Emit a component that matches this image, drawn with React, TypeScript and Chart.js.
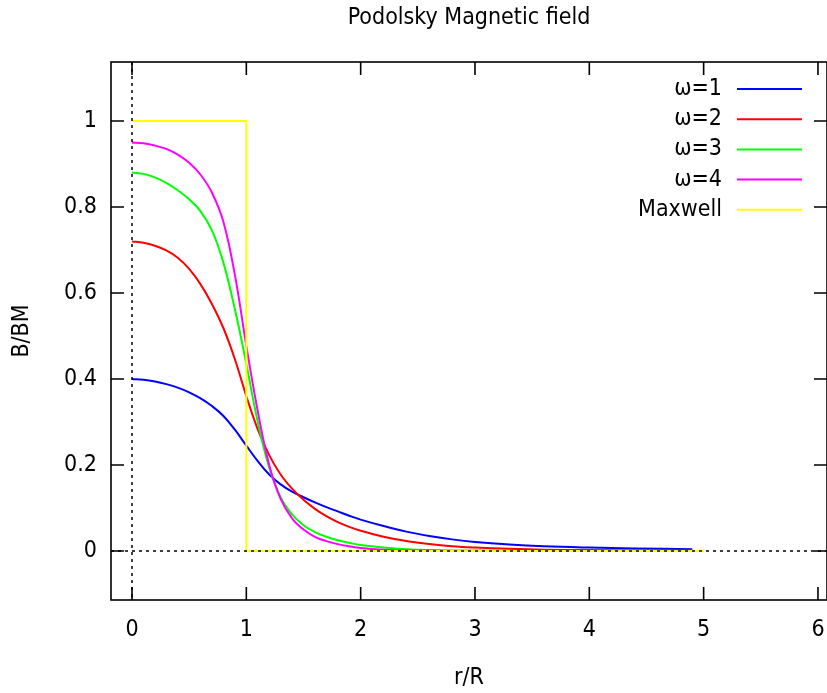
import React, { useEffect, useRef } from "react";
import { Chart, registerables } from "chart.js";

Chart.register(...registerables);

const FONT = "'DejaVu Sans Condensed', 'DejaVu Sans', sans-serif";

const chartTitle = "Podolsky Magnetic field";
const xAxisTitle = "r/R";
const yAxisTitle = "B/BM";

const xTickValues = [0, 1, 2, 3, 4, 5, 6];
const yTickValues = [0, 0.2, 0.4, 0.6, 0.8, 1];

const rValues = [
  0, 0.1, 0.2, 0.3, 0.4, 0.5, 0.6, 0.7, 0.8, 0.9, 1.0, 1.1, 1.2, 1.3, 1.4, 1.5, 1.6, 1.7, 1.8, 1.9, 2.0,
  2.2, 2.4, 2.6, 2.8, 3.0, 3.3, 3.6, 4.0, 4.4, 4.9,
];
const omega1 = [
  0.400, 0.398, 0.394, 0.388, 0.380, 0.369, 0.355, 0.337, 0.314, 0.282, 0.245, 0.209, 0.178, 0.155, 0.138, 0.125, 0.113, 0.102, 0.092, 0.082, 0.073,
  0.058, 0.045, 0.035, 0.027, 0.021, 0.015, 0.011, 0.008, 0.006, 0.004,
];
const omega2 = [
  0.720, 0.717, 0.710, 0.699, 0.682, 0.656, 0.620, 0.574, 0.518, 0.446, 0.360, 0.283, 0.223, 0.178, 0.145, 0.119, 0.098, 0.081, 0.067, 0.056, 0.047,
  0.033, 0.023, 0.016, 0.011, 0.008, 0.005, 0.003, 0.002, 0.001, 0.001,
];
const omega3 = [
  0.880, 0.877, 0.869, 0.856, 0.839, 0.818, 0.790, 0.745, 0.670, 0.562, 0.435, 0.300, 0.194, 0.125, 0.085, 0.060, 0.044, 0.033, 0.025, 0.019, 0.014,
  0.008, 0.004, 0.002, 0.001, 0.001, 0, 0, 0, 0, 0,
];
const omega4 = [
  0.950, 0.948, 0.943, 0.935, 0.922, 0.903, 0.875, 0.833, 0.765, 0.642, 0.477, 0.325, 0.200, 0.121, 0.076, 0.050, 0.033, 0.023, 0.016, 0.011, 0.007,
  0.003, 0.001, 0.001, 0, 0, 0, 0, 0, 0, 0,
];
const maxwellR = [0, 1, 1, 5];
const maxwellB = [1, 1, 0, 0];

const seriesLabels = ["ω=1", "ω=2", "ω=3", "ω=4", "Maxwell"];
const seriesColors = ["#0000ff", "#ff0000", "#00ff00", "#ff00ff", "#ffff00"];

const xMin = -0.1837;
const xMax = 6.079;
const yMin = -0.114;
const yMax = 1.1372;

const toPoints = (xs: number[], ys: number[]) => xs.map((x, i) => ({ x, y: ys[i] }));

const gnuplotFrame = {
  id: "gnuplotFrame",
  afterDatasetsDraw(chart: any) {
    const { ctx, chartArea } = chart;
    const { left, right, top, bottom } = chartArea;
    const xs = chart.scales.x;
    const ys = chart.scales.y;
    ctx.save();
    // zero axes (dotted)
    ctx.strokeStyle = "#000";
    ctx.lineWidth = 1.5;
    ctx.setLineDash([3, 4]);
    const y0 = ys.getPixelForValue(0);
    const x0 = xs.getPixelForValue(0);
    ctx.beginPath();
    ctx.moveTo(left, y0);
    ctx.lineTo(right, y0);
    ctx.moveTo(x0, top);
    ctx.lineTo(x0, bottom);
    ctx.stroke();
    ctx.setLineDash([]);
    // border
    ctx.lineWidth = 1.6;
    ctx.strokeRect(left, top, right - left, bottom - top);
    // ticks (inside, mirrored)
    const tl = 13;
    ctx.beginPath();
    xTickValues.forEach((v) => {
      const p = xs.getPixelForValue(v);
      ctx.moveTo(p, bottom);
      ctx.lineTo(p, bottom - tl);
      ctx.moveTo(p, top);
      ctx.lineTo(p, top + tl);
    });
    yTickValues.forEach((v) => {
      const p = ys.getPixelForValue(v);
      ctx.moveTo(left, p);
      ctx.lineTo(left + tl, p);
      ctx.moveTo(right, p);
      ctx.lineTo(right - tl, p);
    });
    ctx.stroke();
    // legend (gnuplot style: text right-aligned, sample line to the right)
    ctx.font = `23px ${FONT}`;
    ctx.textAlign = "right";
    ctx.textBaseline = "middle";
    const textRight = right - 105;
    const lineStart = right - 90;
    const lineEnd = right - 25;
    chart.data.datasets.forEach((ds: any, i: number) => {
      const y = top + 27 + i * 30.2;
      ctx.fillStyle = "#000";
      ctx.fillText(ds.label, textRight, y);
      ctx.strokeStyle = ds.borderColor;
      ctx.lineWidth = 2;
      ctx.beginPath();
      ctx.moveTo(lineStart, y);
      ctx.lineTo(lineEnd, y);
      ctx.stroke();
    });
    ctx.restore();
  },
};

const fmtTick = (v: any) => `${Math.round(Number(v) * 10) / 10}`;

export default function App() {
  const canvasRef = useRef<HTMLCanvasElement | null>(null);

  useEffect(() => {
    document.body.style.margin = "0";
    const canvas = canvasRef.current;
    if (!canvas) return;
    const curveSeries = [omega1, omega2, omega3, omega4];
    const datasets: any[] = curveSeries.map((vals, i) => ({
      label: seriesLabels[i],
      data: toPoints(rValues, vals),
      borderColor: seriesColors[i],
      backgroundColor: seriesColors[i],
      borderWidth: 2,
      pointRadius: 0,
      fill: false,
      tension: 0.4,
      order: 5 - i,
    }));
    datasets.push({
      label: seriesLabels[4],
      data: toPoints(maxwellR, maxwellB),
      borderColor: seriesColors[4],
      backgroundColor: seriesColors[4],
      borderWidth: 2,
      pointRadius: 0,
      fill: false,
      tension: 0,
      order: 0,
    });

    const chart = new Chart(canvas, {
      type: "line",
      data: { datasets },
      options: {
        responsive: false,
        maintainAspectRatio: false,
        animation: false,
        devicePixelRatio: 1,
        layout: { padding: 0 },
        plugins: {
          legend: { display: false },
          tooltip: { enabled: false },
          title: {
            display: true,
            text: chartTitle,
            color: "#000",
            fullSize: false,
            font: { family: FONT, size: 23, weight: "normal" },
            padding: { top: 4, bottom: 30.4 },
          },
        },
        scales: {
          x: {
            type: "linear",
            min: xMin,
            max: xMax,
            grid: { display: false, drawTicks: false },
            border: { display: false },
            afterBuildTicks: (scale: any) => {
              scale.ticks = xTickValues.map((v) => ({ value: v }));
            },
            afterFit: (scale: any) => {
              scale.height = 93;
              scale.paddingLeft = 0;
              scale.paddingRight = 0;
            },
            ticks: {
              color: "#000",
              padding: 16,
              maxRotation: 0,
              autoSkip: false,
              callback: fmtTick,
              font: { family: FONT, size: 23 },
            },
            title: {
              display: true,
              text: xAxisTitle,
              color: "#000",
              font: { family: FONT, size: 23 },
              padding: { top: 0, bottom: 1 },
            },
          },
          y: {
            type: "linear",
            min: yMin,
            max: yMax,
            grid: { display: false, drawTicks: false },
            border: { display: false },
            afterBuildTicks: (scale: any) => {
              scale.ticks = yTickValues.map((v) => ({ value: v }));
            },
            afterFit: (scale: any) => {
              scale.width = 111;
              scale.paddingTop = 0;
              scale.paddingBottom = 0;
            },
            ticks: {
              color: "#000",
              padding: 14,
              autoSkip: false,
              callback: fmtTick,
              font: { family: FONT, size: 23 },
            },
            title: {
              display: true,
              text: yAxisTitle,
              color: "#000",
              font: { family: FONT, size: 23 },
              padding: { top: 8, bottom: 0 },
            },
          },
        },
      },
      plugins: [gnuplotFrame],
    });
    return () => chart.destroy();
  }, []);

  return (
    <div style={{ width: 827, height: 693 }}>
      <canvas ref={canvasRef} width={827} height={693} style={{ display: "block" }} />
    </div>
  );
}
